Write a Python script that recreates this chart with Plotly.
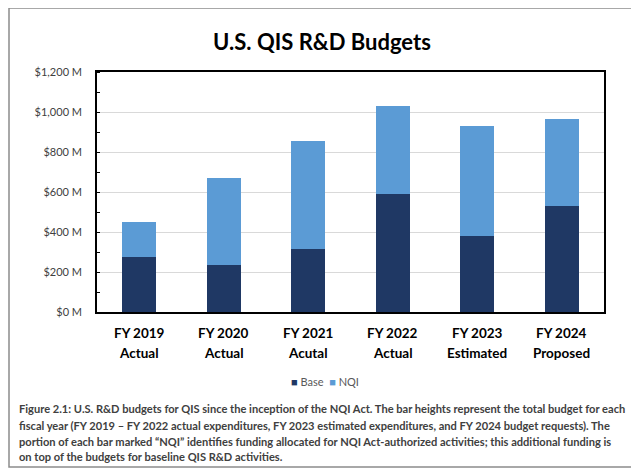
import plotly.graph_objects as go

categories = ["FY 2019", "FY 2020", "FY 2021", "FY 2022", "FY 2023", "FY 2024"]
statuses = ["Actual", "Actual", "Acutal", "Actual", "Estimated", "Proposed"]
base_values = [273, 236, 316, 591, 381, 531]
nqi_values = [175, 434, 540, 440, 550, 436]
y_tick_values = [0, 200, 400, 600, 800, 1000, 1200]
y_tick_labels = ["$0 M", "$200 M", "$400 M", "$600 M", "$800 M", "$1,000 M", "$1,200 M"]
caption_lines = [
    "Figure 2.1: U.S. R&D budgets for QIS since the inception of the NQI Act. The bar heights represent the total budget for each",
    "fiscal year (FY 2019 – FY 2022 actual expenditures, FY 2023 estimated expenditures, and FY 2024 budget requests). The",
    "portion of each bar marked “NQI” identifies funding allocated for NQI Act-authorized activities; this additional funding is",
    "on top of the budgets for baseline QIS R&D activities.",
]
BASE_COLOR = "#1F3864"
NQI_COLOR = "#5B9BD5"

FONT = "Lato"
OFF = 8  # page body margin
W, H = 639 - OFF, 473 - OFF
L, R, T, B = 89, 35, 64, 161
PW, PH = W - L - R, H - T - B


def px_x(x):  # x in reference-window pixels -> paper
    return (x - OFF - L) / PW


def px_y(y):  # y in reference-window pixels -> paper
    return (H - B - (y - OFF)) / PH


fig = go.Figure()
fig.add_trace(go.Bar(x=categories, y=base_values, name="Base", showlegend=False,
                     marker=dict(color=BASE_COLOR, line=dict(width=0))))
fig.add_trace(go.Bar(x=categories, y=nqi_values, name="NQI", showlegend=False,
                     marker=dict(color=NQI_COLOR, line=dict(width=0))))

annotations = []
for cat, st in zip(categories, statuses):
    annotations.append(dict(text=f"<b>{cat}</b>", xref="x", yref="paper", x=cat, y=px_y(333),
                            xanchor="center", yanchor="middle", showarrow=False,
                            font=dict(family=FONT, size=13.5, color="#000000")))
    annotations.append(dict(text=f"<b>{st}</b>", xref="x", yref="paper", x=cat, y=px_y(353),
                            xanchor="center", yanchor="middle", showarrow=False,
                            font=dict(family=FONT, size=13.5, color="#000000")))

caption_y = [408, 425, 441, 457]
for line, yy in zip(caption_lines, caption_y):
    annotations.append(dict(text=f"<b>{line}</b>", xref="paper", yref="paper",
                            x=px_x(17), y=px_y(yy), xanchor="left", yanchor="middle",
                            showarrow=False,
                            font=dict(family=FONT, size=11.1, color="#404040")))

legend_text = (f"<span style='color:{BASE_COLOR}'>■</span> Base  "
               f"<span style='color:{NQI_COLOR}'>■</span> NQI")
annotations.append(dict(text=legend_text, xref="paper", yref="paper",
                        x=px_x(325), y=px_y(381), xanchor="center", yanchor="middle",
                        showarrow=False, font=dict(family=FONT, size=11, color="#595959")))

fig.update_layout(
    width=W, height=H,
    margin=dict(l=L, r=R, t=T, b=B, pad=0),
    paper_bgcolor="white", plot_bgcolor="white",
    barmode="stack", bargap=0.6, showlegend=False,
    font=dict(family=FONT, color="#404040"),
    title=dict(text="<b>U.S. QIS R&D Budgets</b>", xref="container", x=(322 - OFF) / W,
               yref="container", y=1 - (42 - OFF) / H, xanchor="center", yanchor="middle",
               font=dict(family=FONT, size=22, color="#000000")),
    annotations=annotations,
    shapes=[dict(type="rect", xref="paper", yref="paper",
                 x0=px_x(9), x1=px_x(633), y0=px_y(467), y1=px_y(8),
                 line=dict(color="#8c8c8c", width=1.5), fillcolor="rgba(0,0,0,0)",
                 layer="below")],
)
fig.update_xaxes(showline=True, linecolor="#000000", linewidth=1.5, mirror=True,
                 ticks="", showgrid=False, showticklabels=False)
fig.update_yaxes(range=[0, 1200], tickvals=y_tick_values, ticktext=y_tick_labels,
                 showline=True, linecolor="#000000", linewidth=1.5, mirror=True,
                 ticks="", showgrid=True, gridcolor="#D9D9D9", gridwidth=1,
                 zeroline=False, ticklabelstandoff=11,
                 minor=dict(ticks="inside", dtick=100, ticklen=3, tickcolor="#000000",
                            tickwidth=1, showgrid=False),
                 tickfont=dict(family=FONT, size=11, color="#404040"))

fig.write_html("out.html")
